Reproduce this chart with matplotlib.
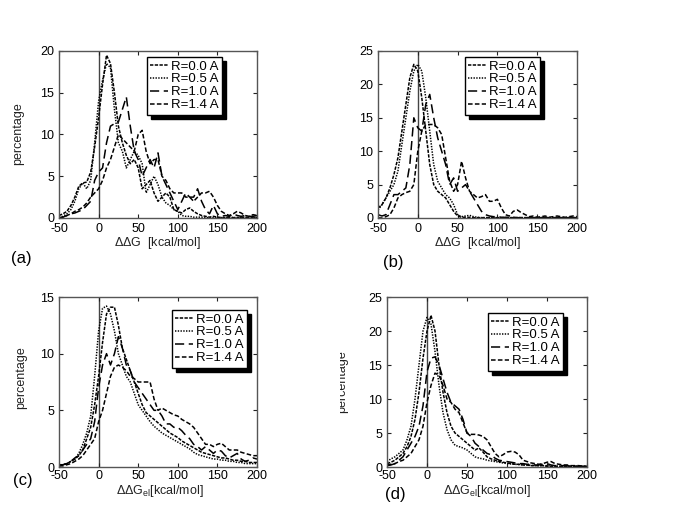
import numpy as np
import matplotlib
matplotlib.use("Agg")
import matplotlib.pyplot as plt
from matplotlib.patches import Rectangle

plt.rcParams['font.family'] = ['Liberation Sans', 'DejaVu Sans']
plt.rcParams['mathtext.fontset'] = 'custom'
plt.rcParams['mathtext.rm'] = 'Liberation Sans'
plt.rcParams['mathtext.it'] = 'Liberation Sans'
plt.rcParams['axes.unicode_minus'] = False

x = np.arange(-50, 201, 5)
labels = ['R=0.0 A', 'R=0.5 A', 'R=1.0 A', 'R=1.4 A']

# panel (a)  dDG
a_r00 = [0.3,0.5,0.8,1.5,2.5,3.8,4.2,4.3,5.5,8.5,12,16,19.5,18.5,15,11,9,7.5,6.5,7,6,3.5,4,4.5,3,2,2.5,3,2.5,1,0.8,0.6,1,1.2,0.8,0.5,0.3,0.2,0.1,0.2,0.1,0.05,0.05,0.1,0.05,0.05,0.05,0.1,0.05,0.05,0.05]
a_r05 = [0.1,0.2,0.5,1,2,3.5,4.2,3.5,4.5,9,14,16.5,18.5,18,13,9,8,6,7,8,7.5,6.5,3,4,5,4,2.5,1.8,1.5,1,0.8,0.3,0.2,0.2,0.1,0.1,0.1,0.05,0.05,0.05,0.05,0.05,0.05,0.05,0.05,0.05,0.05,0.05,0.05,0.05,0.05]
a_r10 = [0,0.1,0.3,0.5,0.6,0.8,1,1.5,2,4.5,5.5,6,9,11,11.3,11.5,13,14.5,11,8,7,5,6,7,6,7.8,5,4,3,2,1,2,3,2.5,2.5,3.5,2,1,0.5,1.5,0.5,0.2,0.3,0.2,0.5,0.3,0.2,0.3,0.2,0.2,0.3]
a_r14 = [0,0.1,0.3,0.5,0.8,1,1.3,1.8,2.5,3,3.5,4.5,6,7,8.5,10,9.5,9,8.5,8,10,10.5,8,6.5,7,7,5,4.5,3.5,3,3,3,2.5,2.5,2,2.5,3,3,3.2,2.5,1.5,0.8,0.5,0.3,0.5,0.8,0.6,0.3,0.2,0.4,0.3]

# panel (b)
b_r00 = [1.5,2,3,4.5,6.5,9,13,17,21,23,22,18,13,8,5,4,3.5,3,2,1,0.3,0.1,0.1,0.1,0.05,0.05,0.05,0.05,0.05,0.05,0.05,0.05,0.05,0.05,0.05,0.05,0.05,0.05,0.05,0.05,0.05,0.05,0.05,0.05,0.05,0.05,0.05,0.05,0.05,0.05,0.05]
b_r05 = [1.2,2,3,4,5,7,11,15,19,22,23,22,18,13,8,5.5,4.5,3.5,3,2,0.5,0.2,0.3,0.4,0.2,0.1,0.05,0.05,0.05,0.05,0.05,0.05,0.05,0.05,0.05,0.05,0.05,0.05,0.05,0.05,0.05,0.05,0.05,0.05,0.05,0.05,0.05,0.05,0.05,0.05,0.05]
b_r10 = [0.5,0.3,0.5,2,3.5,3.5,4,4.5,8,15,13.5,13,17,18.5,15,12,10,8,5,6,4,4.5,5,4,3,2,1,0.5,0.3,0.2,0.2,0.1,0.1,0.1,0.1,0.05,0.05,0.05,0.05,0.05,0.05,0.05,0.05,0.05,0.05,0.05,0.05,0.05,0.05,0.05,0.05]
b_r14 = [0,0,0.2,0.5,1.5,3,3.5,3.8,4,5,10,13,14,14,14,13.5,12.5,9,5.5,4,5,8.5,6,4,3.5,3,3.2,3.5,2.5,2.5,2.8,1.5,0.5,0.3,1,1.2,0.8,0.5,0.2,0.3,0.1,0.2,0.3,0.1,0.2,0.3,0.2,0.1,0.2,0.3,0.2]

# panel (c)  dDG_el
c_r00 = [0.2,0.2,0.3,0.5,0.7,1.0,1.5,2.5,3.5,5.5,8,11,13.5,14.1,14.1,12.5,10.5,9.5,8.5,7.5,6.5,5.5,4.8,4.5,4.2,3.9,3.6,3.3,3,2.8,2.6,2.3,2.1,1.9,1.7,1.5,1.3,1.2,1.1,1,0.9,0.8,0.8,0.7,0.6,0.6,0.5,0.5,0.4,0.4,0.4]
c_r05 = [0.2,0.2,0.3,0.5,0.7,1.2,2,3,4.5,8,12,14,14.2,13.5,12,10,9,8,7.5,6.5,5.5,5,4.5,4,3.6,3.3,3,2.8,2.6,2.4,2.2,2,1.8,1.6,1.3,1.1,1,0.9,0.8,0.7,0.7,0.6,0.6,0.5,0.5,0.4,0.4,0.3,0.3,0.3,0.3]
c_r10 = [0.1,0.2,0.3,0.5,0.8,1,1.5,2,2.5,4,7,9,10,9,10,11.5,10.5,9,8.5,7.5,7,6.5,6,5.5,5,5,4.5,3.8,3.8,3.5,3.5,3.2,2.8,2.5,2,1.8,1.5,1.8,1.5,1.2,1.5,1.4,1,0.8,1,1.2,0.7,0.5,0.6,0.8,0.7]
c_r14 = [0.1,0.1,0.2,0.3,0.5,0.7,1,1.5,2,2.5,4,5,6.5,8,8.8,9,8.8,8.5,8,7.8,7.5,7.5,7.5,7.5,6,5,5.2,5,4.8,4.6,4.5,4.2,4,3.8,3.5,3,2.5,2,2,1.8,2,2.1,1.8,1.5,1.5,1.5,1.3,1.2,1.1,1,1]

# panel (d)
d_r00 = [0.5,0.7,1,1.5,2,3,4.5,7,11,16,20,22.3,20,15,11,8,6,5,4.5,4,3.5,3,2.5,2.8,2.2,1.5,1.2,1,0.8,0.7,0.6,0.5,0.4,0.4,0.3,0.3,0.2,0.2,0.2,0.2,0.1,0.1,0.1,0.1,0.1,0.1,0.1,0.1,0.1,0.1,0.1]
d_r05 = [0.8,1.2,1.5,2,2.5,4,6,10,15,20,22,21,17,12,8,5.5,4,3.2,3,2.8,2.5,2,1.5,1.3,1.2,1,0.9,0.8,0.7,0.6,0.5,0.45,0.4,0.35,0.3,0.3,0.25,0.2,0.2,0.2,0.2,0.15,0.15,0.1,0.1,0.1,0.1,0.1,0.1,0.1,0.1]
d_r10 = [0.2,0.3,0.5,1,1.5,2.5,3.5,4.5,6,9,14,16,16.2,15,13,11,9.5,9,8.5,7,5,4.5,3.5,3,2.5,2,1.8,1.3,1,0.9,0.8,0.7,0.6,0.5,0.5,0.4,0.4,0.3,0.3,0.4,0.5,0.3,0.2,0.2,0.2,0.2,0.1,0.1,0.1,0.1,0.1]
d_r14 = [0.3,0.4,0.5,0.8,1,1.5,2,3,4,6,9.5,12,13.8,13.5,12,10,9.5,8.5,8,6.5,5,4.8,4.8,4.7,4.5,4,3,2,1.5,1.8,2.2,2.3,2.2,1.8,1,0.8,0.6,0.5,0.4,0.5,0.7,0.8,0.5,0.4,0.3,0.3,0.2,0.2,0.2,0.1,0.1]

panels = [
    dict(series=[a_r00, a_r05, a_r10, a_r14], ymax=20, rect=(59, 51, 198, 167), leg=(222, 57),
         tag='(a)', tagpos=(21, 258), xl='$\\Delta\\Delta$G  [kcal/mol]', xlpos=(158, 243),
         yl=(18, 134), xpad=3.5),
    dict(series=[b_r00, b_r05, b_r10, b_r14], ymax=25, rect=(378, 51, 199, 167), leg=(540, 57),
         tag='(b)', tagpos=(393, 262), xl='$\\Delta\\Delta$G  [kcal/mol]', xlpos=(478, 243),
         yl=None, xpad=3.5),
    dict(series=[c_r00, c_r05, c_r10, c_r14], ymax=15, rect=(59, 297, 198, 170), leg=(247, 310),
         tag='(c)', tagpos=(23, 481), xl='$\\Delta\\Delta$G$_{el}$[kcal/mol]', xlpos=(160, 491),
         yl=(21, 378), xpad=2.0),
    dict(series=[d_r00, d_r05, d_r10, d_r14], ymax=25, rect=(387, 297, 200, 170), leg=(563, 313),
         tag='(d)', tagpos=(395, 494), xl='$\\Delta\\Delta$G$_{el}$[kcal/mol]', xlpos=(487, 491),
         yl=(342, 382), xpad=2.0),
]

styles = [(0, (2.2, 0.9)), (0, (0.9, 0.9)), (0, (6, 3)), (0, (3, 1.5))]

W, H = 685, 513
fig = plt.figure(figsize=(W / 100, H / 100), dpi=100)

def fx(px):
    return px / W

def fy(py):
    return 1 - py / H

for p in panels:
    l, t, w, h = p['rect']
    ax = fig.add_axes([fx(l), fy(t + h), w / W, h / H])
    for s, ls, lab in zip(p['series'], styles, labels):
        ax.plot(x, s, color='black', lw=1.1, linestyle=ls, label=lab)
    ax.axvline(0, color='#444444', lw=1.0, zorder=0)
    ax.set_xlim(-50, 200)
    ax.set_ylim(0, p['ymax'])
    ax.set_xticks([-50, 0, 50, 100, 150, 200])
    ax.set_yticks(np.arange(0, p['ymax'] + 1, 5))
    ax.tick_params(direction='in', top=True, right=True, labelsize=9, length=3, width=0.8,
                   colors='#222222', labelcolor='black')
    ax.tick_params(axis='x', pad=p['xpad'])
    ax.tick_params(axis='y', pad=3.5)
    for sp in ax.spines.values():
        sp.set_color('#555555')
        sp.set_linewidth(1.0)
    lx, ly = p['leg']
    leg = ax.legend(loc='upper right',
                    bbox_to_anchor=((lx - l) / w, 1 - (ly - t) / h),
                    borderaxespad=0, fontsize=9.5, handlelength=1.4, handletextpad=0.2,
                    labelspacing=0.05, borderpad=0.25, fancybox=False, framealpha=1,
                    edgecolor='black', shadow={'color': 'black', 'alpha': 1.0, 'ox': 3, 'oy': -3})
    leg.get_frame().set_linewidth(1.0)
    fig.text(fx(p['tagpos'][0]), fy(p['tagpos'][1]), p['tag'], fontsize=12,
             ha='center', va='center')
    fig.text(fx(p['xlpos'][0]), fy(p['xlpos'][1]), p['xl'], fontsize=9,
             ha='center', va='center', color='#222222')
    if p['yl'] is not None:
        txt = fig.text(fx(p['yl'][0]), fy(p['yl'][1]), 'percentage', fontsize=9,
                       rotation=90, ha='center', va='center', color='#222222')
        if p['tag'] == '(d)':
            clip = Rectangle((340, 0), 100, H, transform=None)
            txt.set_clip_path(clip)

fig.savefig('out.png', dpi=100)
